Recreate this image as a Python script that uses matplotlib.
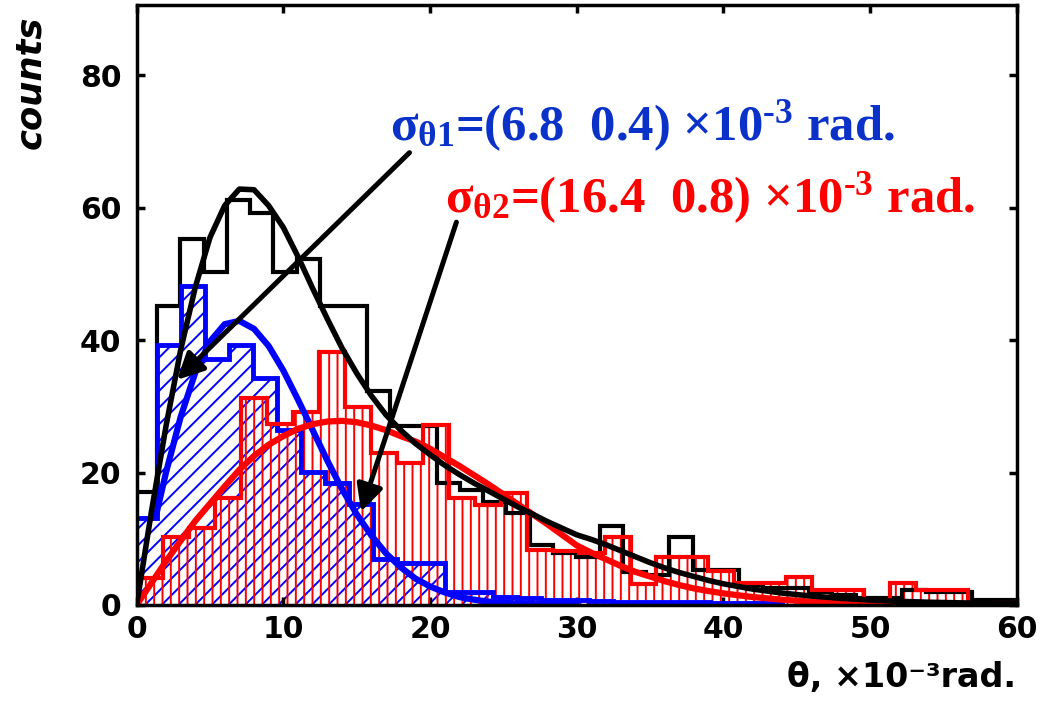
import matplotlib
matplotlib.use('Agg')
import matplotlib.pyplot as plt
import numpy as np

# ---------------- data ----------------
# black histogram (all events)
black_bin_start, black_bin_width = -0.2, 1.588
black_counts = [17, 45.1, 55.3, 50.3, 61.2, 59.2, 50.3, 52.2, 45.1, 45.1,
                32.3, 27.0, 27.0, 18.4, 17.4, 15.6, 13.9, 9.0, 7.9, 7.3,
                11.9, 5.0, 4.5, 10.3, 5.3, 5.3, 3.0, 2.5, 2.5, 2.0,
                1.5, 1.0, 1.0, 2.3, 2.0, 2.0, 0.7, 0.7]
# blue histogram
blue_bin_start, blue_bin_width = -0.27, 1.639
blue_counts = [13.1, 39.2, 48.2, 37.2, 39.2, 34.3, 26.4, 20.1, 18.4, 15.3,
               7.0, 6.3, 6.3, 2.0, 2.0, 1.2, 1.0, 0.8, 0.7, 0.6,
               0.5, 0.5, 0.4, 0.4, 0.3, 0.3, 0.3]
# red histogram
red_bin_start, red_bin_width = 0.04, 1.770
red_counts = [4.1, 10.3, 11.6, 16.1, 31.2, 27.4, 29.2, 38.2, 29.9, 22.9,
              21.4, 27.2, 16.1, 15.1, 16.9, 8.3, 8.1, 7.8, 10.3, 3.2,
              7.3, 7.3, 5.2, 3.3, 3.3, 4.2, 2.2, 2.2, 0.5, 3.3,
              2.2, 2.2, 0.0, 0.3]

# fitted curves
blue_fit_x = [1.3, 2, 3, 4, 5, 6, 7, 8, 9, 10, 11, 12, 13, 14, 15, 16, 17, 18,
              19, 20, 21, 22, 23, 24, 26, 28, 30]
blue_fit_y = [13.3, 20.0, 28.4, 35.1, 39.8, 42.4, 42.9, 41.7, 39.1, 35.4, 31.0,
              26.4, 21.8, 17.5, 13.7, 10.5, 7.8, 5.7, 4.0, 2.8, 1.9, 1.2, 0.8,
              0.5, 0.2, 0.06, 0.02]

red_fit_x = [0, 1, 2, 3, 4, 5, 6, 7, 8, 9, 10, 11, 12, 13, 14, 15, 16, 17, 18,
             19, 20, 21, 22, 23, 24, 25, 26, 27, 28, 29, 30, 31, 32, 33, 34, 35,
             36, 37, 38, 39, 40, 42, 44, 46, 48, 50, 52]
red_fit_y = [0, 3.3, 6.6, 9.7, 12.7, 15.3, 17.9, 20.4, 22.5, 24.2, 25.5, 26.6,
             27.3, 27.7, 27.8, 27.6, 27.1, 26.4, 25.5, 24.7, 23.6, 22.3, 21.0,
             19.6, 18.2, 16.7, 15.2, 13.7, 12.2, 10.6, 9.0, 7.9, 6.9, 5.9, 5.0,
             4.3, 3.6, 3.0, 2.5, 2.1, 1.75, 1.2, 0.8, 0.5, 0.3, 0.2, 0.12]

black_fit_x = [0, 1, 2, 3, 4, 5, 6, 7, 8, 9, 10, 11, 12, 13, 14, 15, 16, 17, 18,
               19, 20, 21, 22, 23, 24, 25, 26, 27, 28, 29, 30, 31, 32, 33, 34,
               35, 36, 37, 38, 39, 40, 42, 44, 46, 48, 50, 52, 54, 56, 58, 60]
black_fit_y = [0, 14, 27, 38.5, 48, 55.5, 60.3, 62.8, 62.7, 60.3, 57, 52.6, 47.8,
               43.2, 38.8, 35, 31.6, 28.7, 26.4, 24.4, 22.7, 21.1, 19.7, 18.4,
               17.2, 16.0, 14.8, 13.7, 12.6, 11.6, 10.6, 9.9, 9.1, 8.2, 7.3, 6.4,
               5.6, 4.9, 4.3, 3.7, 3.2, 2.4, 1.8, 1.35, 1.0, 0.75, 0.55, 0.42,
               0.33, 0.25, 0.2]

x_ticks = [0, 10, 20, 30, 40, 50, 60]
y_ticks = [0, 20, 40, 60, 80]
label_blue = r'$\sigma_{\theta1}$=(6.8  0.4) ×10$^{\text{-3}}$ rad.'
label_red = r'$\sigma_{\theta2}$=(16.4  0.8) ×10$^{\text{-3}}$ rad.'
x_label = 'θ, ×10⁻³rad.'
y_label = 'counts'

# ---------------- style ----------------
plt.rcParams['font.family'] = ['DejaVu Sans']
plt.rcParams['font.weight'] = 'bold'
plt.rcParams['hatch.linewidth'] = 1.4
plt.rcParams['mathtext.fontset'] = 'custom'
plt.rcParams['mathtext.rm'] = 'Liberation Serif:bold'
plt.rcParams['mathtext.it'] = 'Liberation Serif:bold'
plt.rcParams['mathtext.bf'] = 'Liberation Serif:bold'

BLUE = '#0000ff'
RED = '#ff0000'
TXT_BLUE = '#0a32c8'

fig = plt.figure(figsize=(10.4, 7.09), dpi=100)
ax = fig.add_axes([0.1314, 0.1467, 0.8462, 0.8463])


def edges(start, width, n):
    return start + width * np.arange(n + 1)


be = edges(black_bin_start, black_bin_width, len(black_counts))
ble = edges(blue_bin_start, blue_bin_width, len(blue_counts))
re_ = edges(red_bin_start, red_bin_width, len(red_counts))

# hatched fills
ax.stairs(blue_counts, ble, baseline=0, fill=True, facecolor='none',
          edgecolor=BLUE, hatch='//', linewidth=0, zorder=1)
ax.stairs(red_counts, re_, baseline=0, fill=True, facecolor='none',
          edgecolor=RED, hatch='||', linewidth=0, zorder=2)
# outlines
ax.stairs(black_counts, be, baseline=0, color='black', linewidth=3.0, zorder=3)
ax.stairs(blue_counts, ble, baseline=0, color=BLUE, linewidth=3.5, zorder=4)
ax.stairs(red_counts, re_, baseline=0, color=RED, linewidth=3.0, zorder=5)

# fitted curves
ax.plot(blue_fit_x, blue_fit_y, color=BLUE, linewidth=4.5, zorder=6,
        solid_capstyle='round', solid_joinstyle='round')
ax.plot(red_fit_x, red_fit_y, color=RED, linewidth=4.5, zorder=7,
        solid_capstyle='round', solid_joinstyle='round')
ax.plot(black_fit_x, black_fit_y, color='black', linewidth=4.0, zorder=8,
        solid_capstyle='round', solid_joinstyle='round')

# arrows
arrow_kw = dict(arrowstyle='-|>,head_length=0.8,head_width=0.4', lw=3.6,
                color='black', shrinkA=0, shrinkB=0, mutation_scale=20)
ax.annotate('', xy=(2.75, 34.0), xytext=(18.6, 68.3), arrowprops=arrow_kw,
            zorder=9)
ax.annotate('', xy=(15.3, 14.1), xytext=(21.8, 57.8), arrowprops=arrow_kw,
            zorder=9)

# annotation texts
ax.text(17.27, 70.2, label_blue, color=TXT_BLUE, fontsize=36.5,
        family='Liberation Serif', weight='bold', ha='left', va='baseline',
        zorder=10)
ax.text(21.0, 59.3, label_red, color=RED, fontsize=36.5,
        family='Liberation Serif', weight='bold', ha='left', va='baseline',
        zorder=10)

# axes
ax.set_xlim(0, 60)
ax.set_ylim(0, 90.6)
ax.set_xticks(x_ticks)
ax.set_yticks(y_ticks)
for s in ax.spines.values():
    s.set_linewidth(2.5)
    s.set_zorder(11)
ax.tick_params(direction='in', length=6, width=2.5, top=True, right=True,
               labelsize=21.5)
ax.tick_params(axis='x', pad=7)
ax.tick_params(axis='y', pad=11)

fig.text(0.029, 0.884, y_label, rotation=90, ha='center', va='center',
         fontsize=25.5, fontstyle='italic', weight='bold')
fig.text(0.977, 0.031, x_label, ha='right', va='baseline', fontsize=24,
         weight='bold')

fig.savefig('out.png', dpi=100)
